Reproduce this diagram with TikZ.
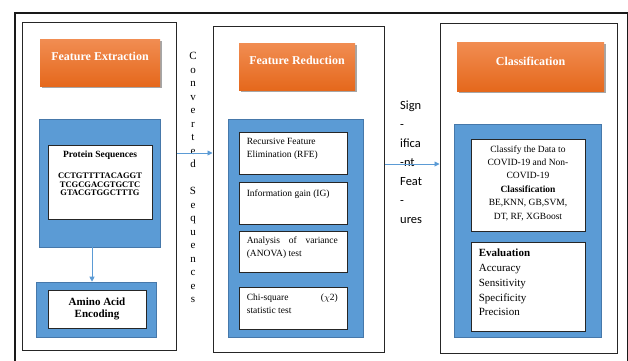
\documentclass[tikz,border=0pt]{standalone}
\usepackage{fontspec}
\setmainfont{Liberation Serif}
\newfontfamily\carl{Carlito}
\usetikzlibrary{arrows.meta,shadows,calc}
\definecolor{oTop}{RGB}{241,141,82}
\definecolor{oBot}{RGB}{229,104,28}
\definecolor{bl}{RGB}{91,155,213}
\definecolor{blEdge}{RGB}{70,120,170}
\begin{document}
\begin{tikzpicture}[x=1pt,y=-1pt,
  panel/.style={draw=black!85, line width=1pt, fill=white, inner sep=0pt},
  ohead/.style={top color=oTop, bottom color=oBot, draw=none, inner sep=0pt,
    drop shadow={shadow xshift=1.5pt, shadow yshift=-2pt, opacity=0.35, fill=black}},
  bluebox/.style={fill=bl, draw=blEdge, line width=0.6pt, inner sep=0pt},
  wbox/.style={fill=white, draw=black!85, line width=0.8pt, inner sep=0pt},
  otext/.style={text=white, font=\fontsize{12}{14}\selectfont\bfseries},
  btext/.style={inner sep=0pt, font=\fontsize{9.5}{13}\selectfont},
  flow/.style={draw=bl, line width=0.9pt, -{Triangle[length=5pt,width=5pt]}}
]
\useasboundingbox (0,0) rectangle (628,360);
\draw[line width=1.3pt, black!90] (15,13) rectangle (627.5,380);

% Panel 1
\node[panel, minimum width=154pt, minimum height=328pt] (p1) at (99,186) {};
\node[ohead, minimum width=120pt, minimum height=47pt] (o1) at (100,62.5) {};
\node[otext] at ($(o1.center)+(0,-6.5)$) {Feature Extraction};
\node[bluebox, minimum width=121pt, minimum height=128pt] (b1) at (99.5,183) {};
\node[wbox, minimum width=104pt, minimum height=74pt] (w1) at (100,182) {};
\node[inner sep=0pt, anchor=north, font=\fontsize{9.5}{11}\selectfont\bfseries] (ps) at ($(w1.north)+(0,6.5)$) {Protein Sequences};
\node[inner sep=0pt, anchor=north, align=center, font=\fontsize{8.5}{8.7}\selectfont\bfseries] (dna) at ($(w1.north)+(0,28)$) {CCTGTTTTACAGGT\\TCGCGACGTGCTC\\GTACGTGGCTTTG};
\node[bluebox, minimum width=120pt, minimum height=55pt] (b1b) at (96,309.5) {};
\node[wbox, minimum width=98pt, minimum height=38pt, align=center, font=\fontsize{11}{12}\selectfont\bfseries] (w1b) at (97,309) {Amino Acid\\Encoding};
\coordinate (a3) at (92,0);
\draw[flow] (b1.south -| a3) -- (b1b.north -| a3);

% Converted Sequences
\node[inner sep=0pt, align=center, font=\fontsize{11}{13.5}\selectfont] (conv) at (193,177.5) {C\\o\\n\\v\\e\\r\\t\\e\\d\\\mbox{}\\S\\e\\q\\u\\e\\n\\c\\e\\s};

% Panel 2
\node[panel, minimum width=171pt, minimum height=326pt] (p2) at (298.5,189) {};
\node[ohead, minimum width=116pt, minimum height=47pt] (o2) at (297,66.5) {};
\node[otext] at ($(o2.center)+(0,-6.5)$) {Feature Reduction};
\node[bluebox, minimum width=135pt, minimum height=218pt] (b2) at (295.5,228) {};
\node[wbox, minimum width=108pt, minimum height=42pt] (rfe) at (293,153) {};
\node[btext, anchor=north west, align=left] at ($(rfe.north west)+(8,6)$) {Recursive Feature\\Elimination (RFE)};
\node[wbox, minimum width=108pt, minimum height=42pt] (ig) at (293,203) {};
\node[btext, anchor=north west, align=left] at ($(ig.north west)+(8,8)$) {Information gain (IG)};
\node[wbox, minimum width=108pt, minimum height=41pt] (anova) at (293,251.5) {};
\node[btext, anchor=north west, align=justify, text width=91pt] at ($(anova.north west)+(8,6)$) {Analysis of variance (ANOVA) test};
\node[wbox, minimum width=108pt, minimum height=42pt] (chi) at (293,308) {};
\node[btext, anchor=north west, align=justify, text width=91pt] at ($(chi.north west)+(8,7)$) {Chi-square \hfill ($\chi$2) statistic test};

% Significant features
\node[inner sep=0pt, anchor=west, align=left, font=\carl\fontsize{12.5}{19}\selectfont] (sig) at (400,162) {Sign\\-\\ifica\\-nt\\Feat\\-\\ures};

% Panel 3
\node[panel, minimum width=177pt, minimum height=330pt] (p3) at (528.5,188) {};
\node[ohead, minimum width=147pt, minimum height=49pt] (o3) at (530.5,66.5) {};
\node[otext] at ($(o3.center)+(0,-5.5)$) {Classification};
\node[bluebox, minimum width=147pt, minimum height=213pt] (b3) at (527.5,230.5) {};
\node[wbox, minimum width=114pt, minimum height=92pt] (w3a) at (528,185) {};
\node[btext, align=center, font=\fontsize{9.5}{13.4}\selectfont] at ($(w3a.center)+(0,-2)$) {Classify the Data to\\COVID-19 and Non-\\COVID-19\\\textbf{Classification}\\BE,KNN, GB,SVM,\\DT, RF, XGBoost};
\node[wbox, minimum width=114pt, minimum height=89pt] (w3b) at (528,286.5) {};
\node[inner sep=0pt, anchor=north west, align=left, font=\fontsize{11}{14.7}\selectfont] at ($(w3b.north west)+(8,7.5)$) {\textbf{Evaluation}\\Accuracy\\Sensitivity\\Specificity\\Precision};

% Connectors
\coordinate (a1) at (0,153);
\draw[flow] (p1.east |- a1) -- (p2.west |- a1);
\coordinate (a2) at (0,164);
\draw[flow] (p2.east |- a2) -- (p3.west |- a2);
\end{tikzpicture}
\end{document}
